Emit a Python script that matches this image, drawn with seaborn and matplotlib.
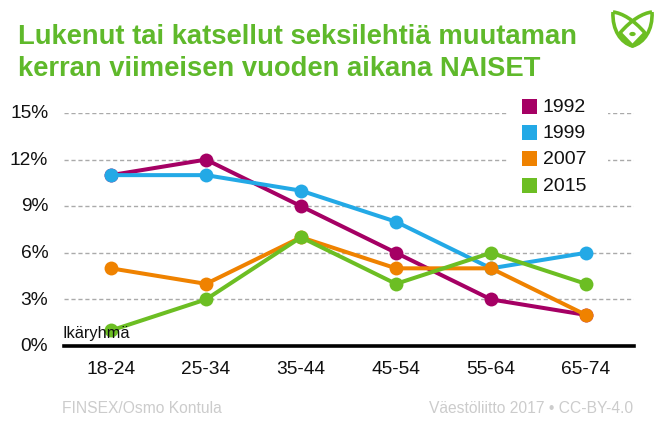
import pandas as pd
import seaborn as sns
import matplotlib.pyplot as plt
from matplotlib.patches import PathPatch, Circle, Rectangle
from matplotlib.path import Path
from matplotlib.transforms import ScaledTranslation

ages = ["18-24", "25-34", "35-44", "45-54", "55-64", "65-74"]
years = ["1992", "1999", "2007", "2015"]
v1992 = [11, 12, 9, 6, 3, 2]
v1999 = [11, 11, 10, 8, 5, 6]
v2007 = [5, 4, 7, 5, 5, 2]
v2015 = [1, 3, 7, 4, 6, 4]
yticks = [0, 3, 6, 9, 12, 15]
colors = ["#A50064", "#23A9E6", "#EF8200", "#6CBE23"]
GREEN = "#6CBE23"
TITLE_GREEN = "#5FB92B"

sns.set_style("white")
plt.rcParams['font.family'] = ['Liberation Sans', 'DejaVu Sans']

df = pd.DataFrame({"age": ages, "1992": v1992, "1999": v1999, "2007": v2007, "2015": v2015})
df = df.melt(id_vars="age", var_name="year", value_name="pct")

W, H = 662, 440
fig = plt.figure(figsize=(W / 100, H / 100), dpi=100)
ax = fig.add_axes([63.5 / W, 1 - 346 / H, 570 / W, 233 / H])

sns.lineplot(data=df, x="age", y="pct", hue="year", hue_order=years, palette=colors, ax=ax,
             marker="o", markersize=10, markeredgewidth=0, linewidth=2.9, legend=False,
             sort=False, errorbar=None, zorder=3, clip_on=False)

ax.set_xlim(-0.5, 5.5)
ax.set_ylim(0, 15)
ax.set_yticks(yticks)
ax.set_yticklabels([f"{t}%" for t in yticks])
ax.set_xlabel("")
ax.set_ylabel("")
ax.tick_params(axis="both", length=0, labelsize=13.8, labelcolor="#111111")
ax.tick_params(axis="x", pad=10.5)
ax.tick_params(axis="y", pad=11)
# y labels sit a little above their gridlines
for lab in ax.get_yticklabels():
    lab.set_transform(lab.get_transform() + ScaledTranslation(0, 1.3 / 100, fig.dpi_scale_trans))
for t in yticks[1:]:
    ax.axhline(t, color="#aaaaaa", linewidth=1, dashes=(3, 2), zorder=1)
for s in ["top", "right", "left"]:
    ax.spines[s].set_visible(False)
ax.spines["bottom"].set_linewidth(2.6)
ax.spines["bottom"].set_color("black")
ax.spines["bottom"].set_zorder(5)

ax.text(62 / W, 1 - 333 / H, "Ikäryhmä", transform=fig.transFigure, fontsize=11.8,
        color="#111111", va="center", zorder=6)

# legend: white block hiding the gridlines, then colour squares
fig_tr = fig.transFigure
ax.add_patch(Rectangle((508 / W, 1 - 200 / H), 100 / W, 105 / H, transform=fig_tr,
                       facecolor="white", edgecolor="none", zorder=2, clip_on=False))
for i, (y, c) in enumerate(zip(years, colors)):
    ypix = 106.5 + i * 26.2
    ax.add_patch(Rectangle((522 / W, 1 - (ypix + 7.5) / H), 15 / W, 15 / H, transform=fig_tr,
                           facecolor=c, edgecolor="none", zorder=4, clip_on=False))
    ax.text(543 / W, 1 - (ypix + 1) / H, y, transform=fig_tr, fontsize=14, color="#111111",
            va="center", zorder=4)

fig.text(18 / W, 1 - 43.5 / H, "Lukenut tai katsellut seksilehtiä muutaman", fontsize=19.75,
         fontweight="bold", color=TITLE_GREEN, va="baseline")
fig.text(18 / W, 1 - 76 / H, "kerran viimeisen vuoden aikana NAISET", fontsize=19.75,
         fontweight="bold", color=TITLE_GREEN, va="baseline")

fig.text(62 / W, 1 - 408 / H, "FINSEX/Osmo Kontula", fontsize=11.25, color="#cccccc", va="center")
fig.text(633 / W, 1 - 408 / H, "Väestöliitto 2017 • CC-BY-4.0", fontsize=11.25, color="#cccccc",
         va="center", ha="right")


# logo
def px(x, y):
    return (x / W, 1 - y / H)


def leaf(m):
    # m flips the leaf about the logo's centre line
    f = lambda x, y: px(632.5 + m * (x - 632.5), y)
    return Path([f(613, 12), f(622, 13), f(634, 20), f(645, 33), f(632.5, 46),
                 f(621, 43), f(612, 30), f(613, 12)],
                [Path.MOVETO, Path.CURVE4, Path.CURVE4, Path.CURVE4, Path.LINETO,
                 Path.CURVE4, Path.CURVE4, Path.CURVE4])


for m in (1, -1):
    fig.add_artist(PathPatch(leaf(m), transform=fig_tr, facecolor="none", edgecolor=GREEN,
                             linewidth=2.6, joinstyle="round"))
fig.add_artist(Circle(px(632.5, 34), 3.2 / W, transform=fig_tr, facecolor=GREEN, edgecolor="none"))

plt.savefig("out.png", dpi=100)
